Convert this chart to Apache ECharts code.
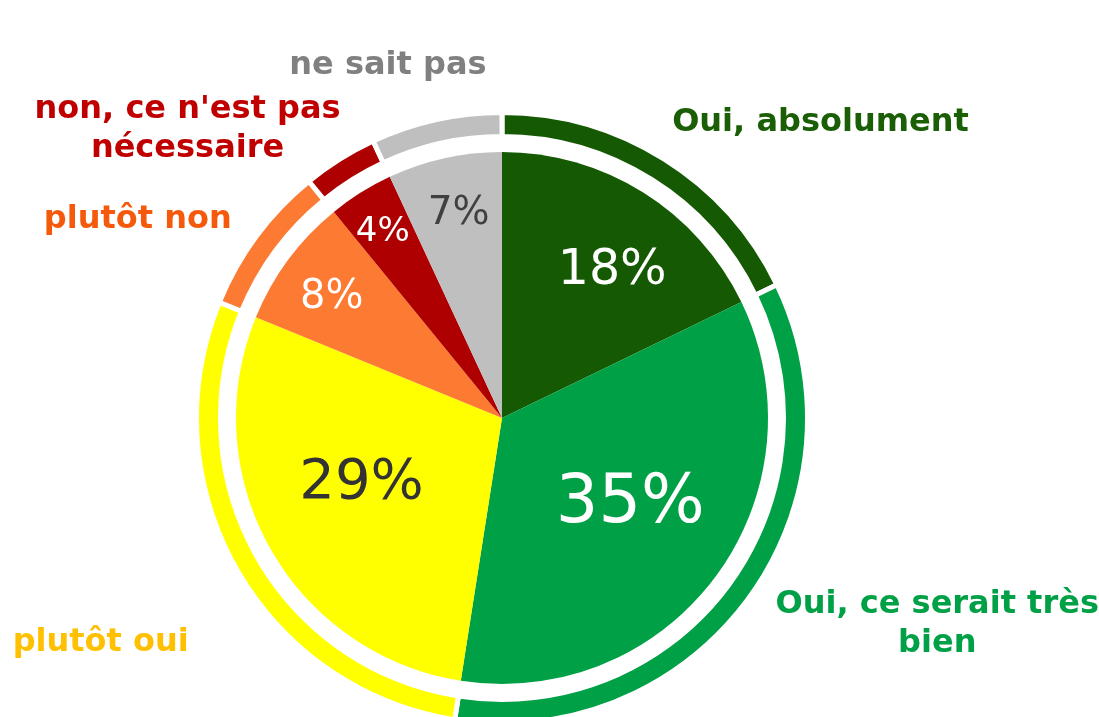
<!DOCTYPE html>
<html>
<head>
<meta charset="utf-8">
<script src="https://cdn.jsdelivr.net/npm/echarts@6/dist/echarts.min.js"></script>
<style>
  html, body { margin: 0; padding: 0; background: #ffffff; }
  #chart { width: 1099px; height: 717px; }
</style>
</head>
<body>
<div id="chart"></div>
<script>
// Survey answers, clockwise from 12 o'clock
const categories = [
  'Oui, absolument',
  'Oui, ce serait très\nbien',
  'plutôt oui',
  'plutôt non',
  "non, ce n'est pas\nnécessaire",
  'ne sait pas'
];
const values = [18, 35, 29, 8, 4, 7];

// Styling per slice
const sliceColors = ['#155a02', '#00a046', '#ffff00', '#fd7a33', '#ae0000', '#bfbfbf'];
const nameColors  = ['#1a5e05', '#00a046', '#ffc000', '#f55a0c', '#c00000', '#808080'];
const pctColors   = ['#ffffff', '#ffffff', '#333333', '#ffffff', '#ffffff', '#404040'];
const pctSizes    = [49, 67, 56, 40, 34, 39];
const pctShift    = [[38, -31], [19, 6], [-22, -1], [-61, -39], [-47, -71], [-14, -71]];
const nameShift   = [[161, -44], [197, 30], [-143, 79], [-126, -22], [-157, -38], [-50, -63]];

const center = [502, 418];
const FONT = 'DejaVu Sans';

const innerData = values.map((v, i) => ({
  name: categories[i],
  value: v,
  itemStyle: { color: sliceColors[i] },
  label: { color: pctColors[i], fontSize: pctSizes[i], offset: pctShift[i] }
}));

const ringData = values.map((v, i) => ({
  name: categories[i],
  value: v,
  itemStyle: { color: sliceColors[i] },
  label: { color: nameColors[i], offset: nameShift[i] }
}));

const chart = echarts.init(document.getElementById('chart'), null, { renderer: 'canvas' });
chart.setOption({
  backgroundColor: '#ffffff',
  animation: false,
  series: [
    {
      type: 'pie',
      center: center,
      radius: [0, 266],
      startAngle: 90,
      clockwise: true,
      silent: true,
      itemStyle: { borderWidth: 0 },
      label: {
        show: true,
        position: 'inside',
        fontFamily: FONT,
        fontWeight: 'normal',
        formatter: p => p.value + '%'
      },
      labelLine: { show: false },
      data: innerData
    },
    {
      type: 'pie',
      center: center,
      radius: [281.5, 305.5],
      startAngle: 90,
      clockwise: true,
      silent: true,
      itemStyle: { borderColor: '#ffffff', borderWidth: 5 },
      label: {
        show: true,
        position: 'inside',
        fontFamily: FONT,
        fontWeight: 'bold',
        fontSize: 32,
        lineHeight: 39,
        align: 'center',
        formatter: p => p.name
      },
      labelLine: { show: false },
      data: ringData
    }
  ]
});
</script>
</body>
</html>
